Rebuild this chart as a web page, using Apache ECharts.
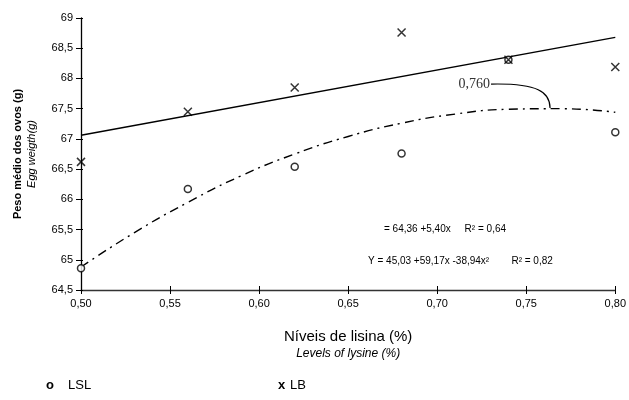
<!DOCTYPE html>
<html>
<head>
<meta charset="utf-8">
<script src="https://cdn.jsdelivr.net/npm/echarts@6/dist/echarts.min.js"></script>
<style>
  html, body { margin: 0; padding: 0; background: #fff; }
  #chart { width: 629px; height: 400px; }
</style>
</head>
<body>
<div id="chart"></div>
<script>
// observed means (lysine level, egg weight g)
const lslPoints = [[0.50, 64.86], [0.56, 66.17], [0.62, 66.54], [0.68, 66.76], [0.74, 68.31], [0.80, 67.11]];
const lbPoints = [[0.50, 66.62], [0.56, 67.45], [0.62, 67.85], [0.68, 68.76], [0.74, 68.31], [0.80, 68.19]];
// fitted lines
const lbFit = [[0.50, 67.06], [0.80, 68.68]];
const lslFit = [[0.50, 64.88], [0.53, 65.45], [0.56, 65.95], [0.59, 66.39], [0.62, 66.75], [0.65, 67.04],
  [0.68, 67.26], [0.71, 67.41], [0.74, 67.49], [0.77, 67.50], [0.80, 67.44]];
const peakPoint = [0.76, 67.51];
const peakLabel = '0,760';
const eqLinear = '= 64,36 +5,40x     R\u00b2 = 0,64';
const eqQuad = 'Y = 45,03 +59,17x -38,94x\u00b2        R\u00b2 = 0,82';

const comma = (v, d) => v.toFixed(d).replace('.', ',');
const FONT = 'Liberation Sans, Arial, sans-serif';

const chart = echarts.init(document.getElementById('chart'));
chart.setOption({
  animation: false,
  textStyle: { fontFamily: FONT, color: '#000' },
  grid: { left: 81, right: 11, top: 18, bottom: 110 },
  xAxis: [{
    type: 'value', min: 0.5, max: 0.8, interval: 0.05,
    axisLine: { lineStyle: { color: '#333', width: 1.3 } },
    axisTick: { length: 4, lineStyle: { color: '#000' } },
    splitLine: { show: false },
    axisLabel: { fontSize: 11, color: '#000', margin: 8, formatter: v => comma(v, 2) },
    name: '{a|Níveis de lisina (%)}\n{b|Levels of lysine (%)}',
    nameLocation: 'middle', nameGap: 38,
    nameTextStyle: {
      rich: {
        a: { fontSize: 15, fontFamily: FONT, color: '#000', lineHeight: 18, align: 'center' },
        b: { fontSize: 12, fontFamily: FONT, fontStyle: 'italic', color: '#000', lineHeight: 16, align: 'center' }
      }
    }
  }, {
    // inner half of the crossing ticks
    type: 'value', min: 0.5, max: 0.8, interval: 0.05, position: 'bottom',
    axisLine: { show: false }, axisLabel: { show: false }, splitLine: { show: false },
    axisTick: { inside: true, length: 4, lineStyle: { color: '#000' } }
  }],
  yAxis: [{
    type: 'value', min: 64.5, max: 69, interval: 0.5,
    axisLine: { show: true, lineStyle: { color: '#000', width: 1.3 } },
    axisTick: { show: true, length: 5, lineStyle: { color: '#000' } },
    splitLine: { show: false },
    axisLabel: { fontSize: 11, color: '#000', margin: 8, formatter: v => comma(v, v % 1 === 0 ? 0 : 1) },
    name: '{a|Peso médio dos ovos (g)}\n{b|Egg weigth(g)}',
    nameLocation: 'middle', nameRotate: 90, nameGap: 42,
    nameTextStyle: {
      rich: {
        a: { fontSize: 11, fontFamily: FONT, fontWeight: 'bold', color: '#000', lineHeight: 14, align: 'center' },
        b: { fontSize: 11, fontFamily: FONT, fontStyle: 'italic', color: '#000', lineHeight: 14, align: 'center' }
      }
    }
  }, {
    type: 'value', min: 64.5, max: 69, interval: 0.5, position: 'left',
    axisLine: { show: false }, axisLabel: { show: false }, splitLine: { show: false },
    axisTick: { show: true, inside: true, length: 2, lineStyle: { color: '#000' } }
  }],
  series: [
    {
      name: 'LB fit', type: 'line', data: lbFit, showSymbol: false, silent: true,
      lineStyle: { color: '#000', width: 1.4 }, z: 2
    },
    {
      name: 'LSL fit', type: 'line', data: lslFit, smooth: true, showSymbol: false, silent: true,
      lineStyle: { color: '#000', width: 1.4, type: [9, 5, 2, 5] }, z: 2
    },
    {
      name: 'LSL', type: 'scatter', data: lslPoints, symbol: 'circle', symbolSize: 7,
      itemStyle: { color: '#fff', borderColor: '#000', borderWidth: 1.5 }, z: 4
    },
    {
      name: 'LB', type: 'scatter', data: lbPoints, symbol: 'path://M0,0L10,10M10,0L0,10', symbolSize: 8,
      itemStyle: { color: '#000', borderColor: '#000', borderWidth: 1.5 }, z: 5
    }
  ]
});

// annotations placed through the chart's own coordinate system
const peak = chart.convertToPixel({ gridIndex: 0 }, peakPoint);
const labelEnd = [peak[0] - 54, peak[1] - 24];
chart.setOption({
  graphic: [
    {
      type: 'text', x: labelEnd[0], y: labelEnd[1],
      style: { text: peakLabel, font: '14px "Liberation Serif", serif', fill: '#333', align: 'right', verticalAlign: 'middle' }
    },
    {
      type: 'bezierCurve',
      shape: {
        x1: labelEnd[0] + 1, y1: labelEnd[1],
        cpx1: peak[0] - 6, cpy1: labelEnd[1] - 1,
        cpx2: peak[0] + 6, cpy2: labelEnd[1] + 8,
        x2: peak[0] + 6, y2: peak[1]
      },
      style: { stroke: '#000', lineWidth: 1.2, fill: null }
    },
    {
      type: 'text', x: 384, y: 229,
      style: { text: eqLinear, font: '10px ' + FONT, fill: '#000', verticalAlign: 'middle' }
    },
    {
      type: 'text', x: 368, y: 261,
      style: { text: eqQuad, font: '10px ' + FONT, fill: '#000', verticalAlign: 'middle' }
    },
    {
      type: 'text', x: 46, y: 385,
      style: { text: 'o', font: 'bold 13px ' + FONT, fill: '#000', verticalAlign: 'middle' }
    },
    {
      type: 'text', x: 68, y: 385,
      style: { text: 'LSL', font: '13px ' + FONT, fill: '#000', verticalAlign: 'middle' }
    },
    {
      type: 'text', x: 278, y: 385,
      style: { text: 'x', font: 'bold 13px ' + FONT, fill: '#000', verticalAlign: 'middle' }
    },
    {
      type: 'text', x: 290, y: 385,
      style: { text: 'LB', font: '13px ' + FONT, fill: '#000', verticalAlign: 'middle' }
    }
  ]
});
</script>
</body>
</html>
